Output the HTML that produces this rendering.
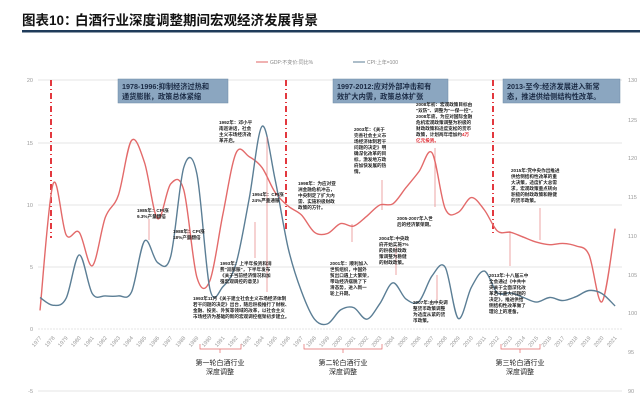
<!DOCTYPE html>
<html><head><meta charset="utf-8"><style>
html,body{margin:0;padding:0;background:#fff;}
body{width:640px;height:413px;overflow:hidden;font-family:"Liberation Sans","Noto Sans CJK SC",sans-serif;}
</style></head><body>
<svg id="s" width="640" height="413" viewBox="0 0 640 413" xmlns="http://www.w3.org/2000/svg" font-family="Liberation Sans, Noto Sans CJK SC, sans-serif">
<text x="22" y="25" font-size="13.5" font-weight="bold" fill="#111">图表10：</text>
<text x="75" y="25" font-size="13.5" font-weight="bold" fill="#111">白酒行业深度调整期间宏观经济发展背景</text>
<rect x="22" y="30" width="618" height="2.5" fill="#1f3b5a"/>
<g stroke="#dcdcdc" stroke-width="0.8">
<line x1="38" y1="80" x2="622" y2="80"/><line x1="38" y1="143" x2="622" y2="143"/><line x1="38" y1="205" x2="622" y2="205"/><line x1="38" y1="267" x2="622" y2="267"/><line x1="38" y1="329" x2="622" y2="329" stroke-dasharray="2,1"/><line x1="38" y1="391" x2="622" y2="391"/>
</g>
<g font-size="5.5" fill="#999" text-anchor="end">
<text x="33" y="82">20</text><text x="33" y="145">15</text><text x="33" y="207">10</text><text x="33" y="269">5</text><text x="33" y="331">0</text><text x="33" y="393">-5</text>
</g>
<g font-size="5.5" fill="#999">
<text x="628" y="82">130</text><text x="628" y="122">125</text><text x="628" y="160">120</text><text x="628" y="199">115</text><text x="628" y="238">110</text><text x="628" y="277">105</text><text x="628" y="315">100</text><text x="628" y="354">95</text><text x="628" y="393">90</text>
</g>
<line x1="256" y1="62" x2="268" y2="62" stroke="#e06464" stroke-width="1"/>
<text x="270" y="64" font-size="5" fill="#888">GDP:不变价:同比%</text>
<line x1="353" y1="62" x2="365" y2="62" stroke="#5b7e95" stroke-width="1"/>
<text x="367" y="64" font-size="5" fill="#888">CPI:上年=100</text>
<g id="xl" font-size="5.5" fill="#999"></g>
<g stroke="#e0222a" stroke-width="1.8" stroke-dasharray="6,3,1,3">
<line x1="51" y1="80" x2="51" y2="238"/><line x1="286" y1="80" x2="286" y2="232"/><line x1="493" y1="80" x2="493" y2="236"/>
</g>
<path id="gdp" fill="none" stroke="#e36a6a" stroke-width="1.4"/>
<path id="cpi" fill="none" stroke="#5b7e95" stroke-width="1.4"/>
<g fill="#8ba6c0" stroke="#6d8aa6" stroke-width="0.5">
<rect x="118" y="79" width="110" height="24"/><rect x="333" y="79" width="115" height="24"/><rect x="503" y="79" width="117" height="24"/>
</g>
<g font-size="7.2" font-weight="bold" fill="#1a2a44">
<text x="122" y="89">1978-1996:抑制经济过热和</text><text x="122" y="99">通货膨胀，政策总体紧缩</text>
<text x="337" y="89">1997-2012:应对外部冲击和有</text><text x="337" y="99">效扩大内需，政策总体扩张</text>
<text x="507" y="89">2013-至今:经济发展进入新常</text><text x="507" y="99">态，推进供给侧结构性改革。</text>
</g>
<g stroke="#e36a6a" stroke-width="0.6" fill="none">
<line x1="149" y1="219" x2="149" y2="240"/><line x1="188" y1="240" x2="188" y2="229"/><line x1="267" y1="137" x2="267" y2="292"/><line x1="255" y1="258" x2="255" y2="222"/>
<line x1="382" y1="180" x2="382" y2="210"/><line x1="352" y1="242" x2="352" y2="224"/><line x1="435" y1="148" x2="435" y2="207"/><line x1="510" y1="266" x2="510" y2="231"/><line x1="540" y1="208" x2="540" y2="240"/><line x1="396" y1="247" x2="396" y2="275"/><line x1="437" y1="300" x2="437" y2="275"/>
</g>
<g font-size="4.6" fill="#222" font-weight="bold">
<text x="219" y="124">1992年：邓小平</text><text x="219" y="130">南巡讲话，社会</text><text x="219" y="136">主义市场经济改</text><text x="219" y="142">革开启。</text>
<text x="137" y="212">1985年：CPI涨</text><text x="137" y="218">9.3%产量翻倍</text>
<text x="173" y="233">1988年：CPI涨</text><text x="173" y="239">18%产量翻倍</text>
<text x="252" y="196">1994年：CPI涨</text><text x="252" y="202">24%严重通胀</text>
<text x="220" y="265">1993年：上半年投资和消</text><text x="220" y="271">费"双膨胀"，下半年发布</text><text x="220" y="277">《关于当前经济情况和加</text><text x="220" y="283">强宏观调控的意见》</text>
<text x="193" y="300">1993年11月《关于建立社会主义市场经济体制</text><text x="193" y="306">若干问题的决定》出台，随后积极推行了财税、</text><text x="193" y="312">金融、投资、外贸等领域的改革，以社会主义</text><text x="193" y="318">市场经济为基础的新的宏观调控框架初步建立。</text>
<text x="298" y="185">1998年：为应对亚</text><text x="298" y="191">洲金融危机冲击，</text><text x="298" y="197">中央制定了扩大内</text><text x="298" y="203">需、实施积极财政</text><text x="298" y="209">政策的方针。</text>
<text x="354" y="131">2003年：《关于</text><text x="354" y="137">完善社会主义市</text><text x="354" y="143">场经济体制若干</text><text x="354" y="149">问题的决定》明</text><text x="354" y="155">确深化改革的目</text><text x="354" y="161">标，激发地方政</text><text x="354" y="167">府加快发展的热</text><text x="354" y="173">情。</text>
<text x="416" y="106">2008年初：宏观政策目标由</text><text x="416" y="112">"双防"、调整为"一保一控"，</text><text x="416" y="118">2008年底，为应对国际金融</text><text x="416" y="124">危机宏观政策调整为积极的</text><text x="416" y="130">财政政策和适度宽松的货币</text><text x="416" y="136">政策，计划两年增加约<tspan fill="#e0222a">4万</tspan></text><text x="416" y="142" fill="#e0222a">亿元投资。</text>
<text x="330" y="265">2001年：顺利加入</text><text x="330" y="271">世贸组织，中国外</text><text x="330" y="277">贸出口遇上大繁荣，</text><text x="330" y="283">带动经济摆脱了下</text><text x="330" y="289">滑态势，进入新一</text><text x="330" y="295">轮上升期。</text>
<text x="379" y="240">2004年:中央政</text><text x="379" y="246">府开始实施7%</text><text x="379" y="252">的积极财政政</text><text x="379" y="258">策调整为稳健</text><text x="379" y="264">的财政政策。</text>
<text x="397" y="220">2005-2007年入世</text><text x="397" y="226">后的经济繁荣期。</text>
<text x="413" y="304">2007年:由中央调</text><text x="413" y="310">整货币政策调整</text><text x="413" y="316">为适度从紧的货</text><text x="413" y="322">币政策。</text>
<text x="489" y="277">2013年:十八届三中</text><text x="489" y="283">全会通过《中共中</text><text x="489" y="289">央关于全面深化改</text><text x="489" y="295">革若干重大问题的</text><text x="489" y="301">决定》，推进供给</text><text x="489" y="307">侧结构性改革做了</text><text x="489" y="313">理论上的准备。</text>
<text x="511" y="172">2015年:党中央作出推进</text><text x="511" y="178">供给侧结构性改革的重</text><text x="511" y="184">大决策，适度扩大总需</text><text x="511" y="190">求，宏观政策重点转向</text><text x="511" y="196">积极的财政政策和稳健</text><text x="511" y="202">的货币政策。</text>
</g>
<g stroke="#e36a6a" stroke-width="0.7" fill="none">
<path d="M200 344 V349 H241 V344 M220 349 V353"/>
<path d="M304 344 V349 H382 V344 M343 349 V353"/>
<path d="M501 344 V349 H540 V344 M520 349 V353"/>
</g>
<g font-size="7" fill="#222" text-anchor="middle">
<text x="220" y="365">第一轮白酒行业</text><text x="220" y="374">深度调整</text>
<text x="343" y="365">第二轮白酒行业</text><text x="343" y="374">深度调整</text>
<text x="520" y="365">第三轮白酒行业</text><text x="520" y="374">深度调整</text>
</g>
</svg>
<script>
var g=[1.5,11.7,7.6,7.8,5.1,9.0,10.8,15.2,13.4,8.9,11.7,11.2,4.2,3.9,9.3,14.2,13.9,13.0,11.0,9.9,9.2,7.8,7.7,8.5,8.3,9.1,10.0,10.1,11.4,12.7,14.2,9.7,9.4,10.6,9.6,7.9,7.8,7.4,7.0,6.8,6.9,6.7,6.0,2.2,8.1];
var c=[102.0,101.0,101.9,107.5,102.5,102.2,102.2,102.7,109.3,106.5,107.3,118.8,118.0,103.1,103.4,106.4,114.7,124.1,117.1,108.3,102.8,99.2,98.6,100.4,100.7,99.2,101.2,103.9,101.8,101.5,104.8,105.9,99.3,103.3,105.4,102.6,102.6,102.0,101.4,102.0,101.6,102.1,102.9,102.5,100.9];
function X(i){return 40+i*13.07;}
function path(p){var d="M"+p[0][0]+" "+p[0][1];for(var i=0;i<p.length-1;i++){var p0=p[i-1]||p[i],p1=p[i],p2=p[i+1],p3=p[i+2]||p2;
d+=" C"+(p1[0]+(p2[0]-p0[0])/6).toFixed(1)+" "+(p1[1]+(p2[1]-p0[1])/6).toFixed(1)+" "+(p2[0]-(p3[0]-p1[0])/6).toFixed(1)+" "+(p2[1]-(p3[1]-p1[1])/6).toFixed(1)+" "+p2[0].toFixed(1)+" "+p2[1].toFixed(1);}return d;}
document.getElementById("gdp").setAttribute("d",path(g.map(function(v,i){return[X(i),329-12.4*v];})));
document.getElementById("cpi").setAttribute("d",path(c.map(function(v,i){return[X(i),313-(v-100)*7.75];})));
var xl=document.getElementById("xl"),h="";
for(var i=0;i<45;i++){var x=X(i)+2,y=338;h+='<text transform="translate('+x+' '+y+') rotate(-50)" text-anchor="end">'+(1977+i)+'</text>';}
xl.innerHTML=h;
</script>
</body></html>
